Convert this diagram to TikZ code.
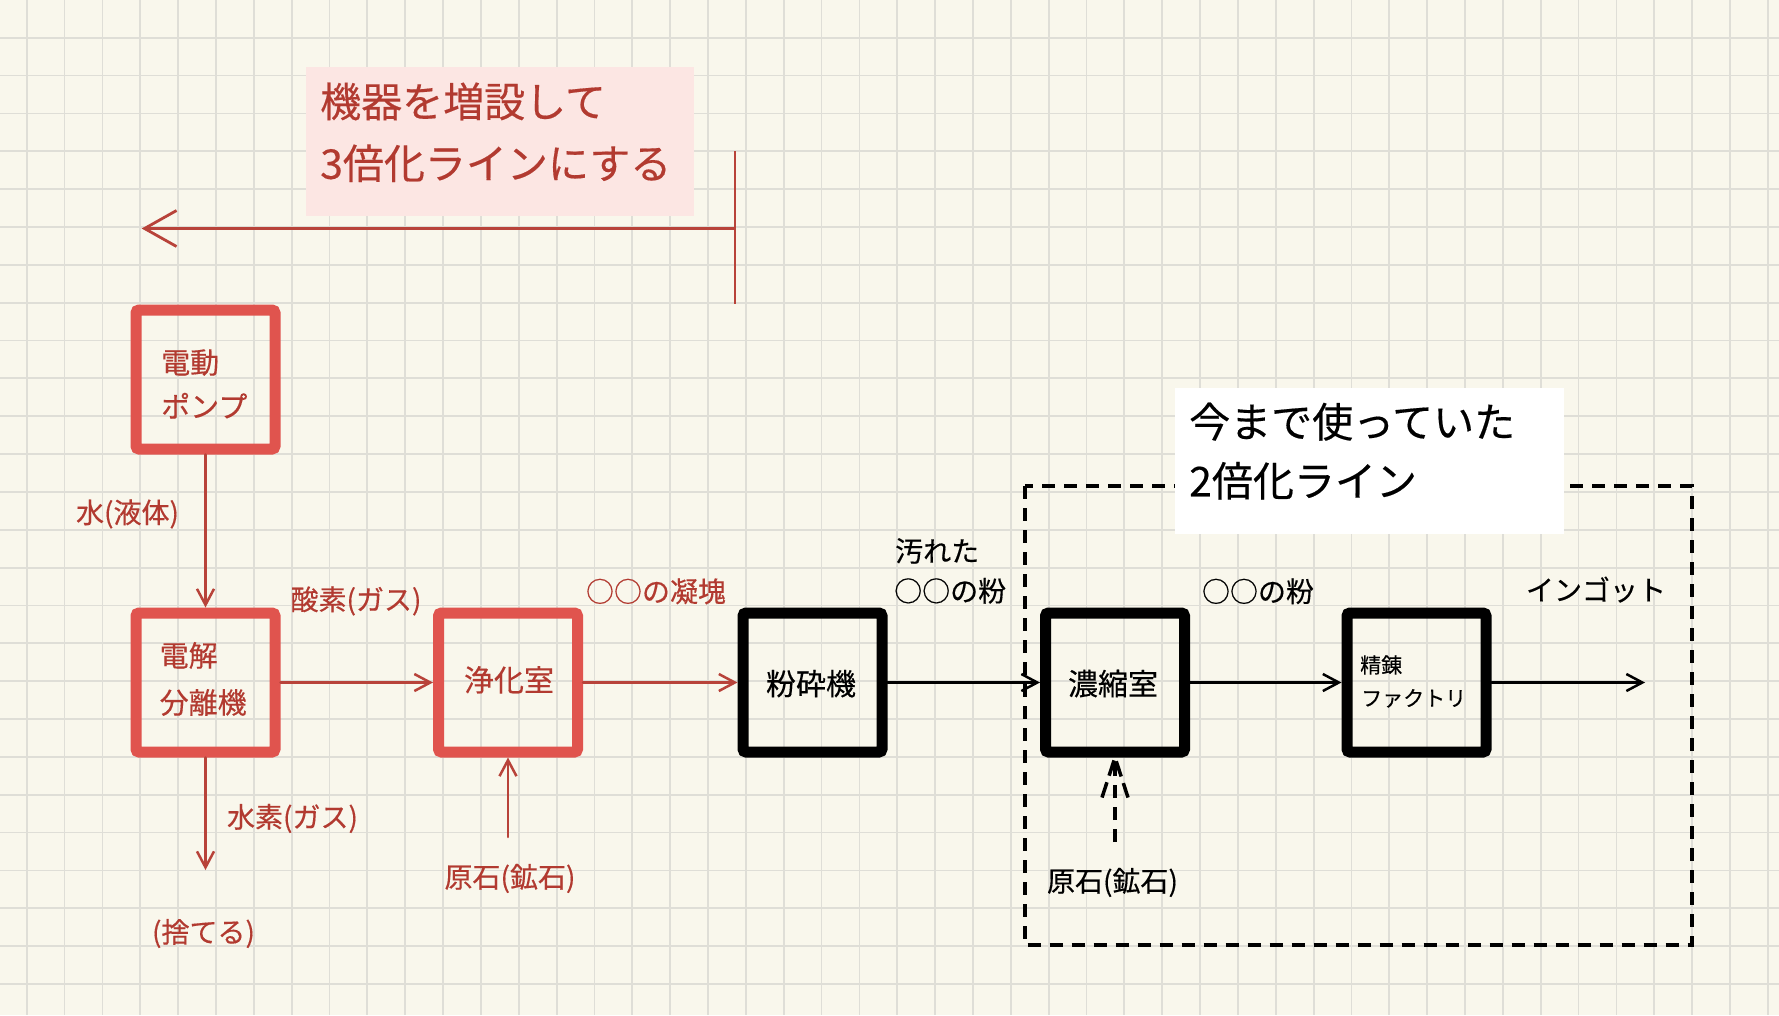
\documentclass[tikz,border=0pt]{standalone}
\usepackage{fontspec}
\setmainfont{Noto Sans CJK JP}[FakeBold=0.35]
\usetikzlibrary{arrows.meta}
\definecolor{bg}{HTML}{F9F7EC}
\definecolor{gridc}{HTML}{DFDED7}
\definecolor{boxred}{HTML}{E0544E}
\definecolor{txtred}{HTML}{B23A30}
\definecolor{linered}{HTML}{B8433A}
\definecolor{pinkfill}{HTML}{FCE6E3}
\begin{document}
\begin{tikzpicture}[x=1pt,y=-1pt,
  box/.style={draw, line width=11pt, rounded corners=3pt, minimum width=139pt, minimum height=139pt, inner sep=0pt},
  redbox/.style={box, draw=boxred},
  blackbox/.style={box, draw=black},
  txt/.style={inner sep=0pt, anchor=base},
  lbl/.style={txt, font=\fontsize{28}{33}\selectfont},
  redlbl/.style={lbl, text=txtred},
  boxtxt/.style={txt, font=\fontsize{29}{35}\selectfont},
  bigtxt/.style={txt, anchor=base west, font=\fontsize{41}{48}\selectfont},
  smalltxt/.style={txt, anchor=base west, font=\fontsize{21}{25}\selectfont},
  arr/.style={line width=2.5pt, line cap=round, -{Straight Barb[length=16pt,width=17pt,line width=2.5pt]}},
  redarr/.style={arr, draw=linered},
  blackarr/.style={arr, draw=black},
  dsh/.style={draw=black, line width=4pt, dash pattern=on 13pt off 9pt},
  dshhead/.style={draw=black, line width=3.5pt, dash pattern=on 16pt off 7pt},
]
\useasboundingbox (0,0) rectangle (1779,1015);
\fill[bg] (0,0) rectangle (1779,1015);
\foreach \i in {0,...,46} \draw[gridc, line width=1.8pt] ({26.7+37.85*\i},0) -- ({26.7+37.85*\i},1015);
\foreach \j in {1,...,26} \draw[gridc, line width=1.8pt] (0,{-0.15+37.85*\j}) -- (1779,{-0.15+37.85*\j});

% title (3x line)
\node[fill=pinkfill, minimum width=388pt, minimum height=149pt, inner sep=0pt, anchor=north west] (titlebox) at (306,67) {};
\node[bigtxt, text=txtred] (title1) at (320,117) {機器を増設して};
\node[bigtxt, text=txtred] (title2) at (320,178.8) {3倍化ラインにする};
\coordinate (bartop) at (735,151);
\coordinate (barbot) at (735,304);
\coordinate (bigfrom) at (735,228.5);
\coordinate (bigto) at (141.7,228.5);
\draw[linered, line width=2.5pt] (bartop) -- (barbot);
\draw[linered, line width=2.8pt, -{Straight Barb[length=32pt,width=36pt,line width=2.8pt]}] (bigfrom) -- (bigto);

% dashed region (2x line)
\draw[dsh] (1024.5,486) rectangle (1691.7,945);
\node[fill=white, minimum width=389pt, minimum height=146pt, inner sep=0pt, anchor=north west] (oldbox) at (1175,388) {};
\node[bigtxt, text=black] (old1) at (1189,437.3) {今まで使っていた};
\node[bigtxt, text=black] (old2) at (1189,496.3) {2倍化ライン};

% boxes
\node[redbox] (pump) at (205.5,379.5) {};
\node[redbox] (elec) at (205.5,682.5) {};
\node[redbox] (puri) at (508,682.5) {};
\node[blackbox] (crush) at (812.5,682.5) {};
\node[blackbox] (conc) at (1115,682.5) {};
\node[blackbox] (refine) at (1416.5,682.5) {};

% box texts
\node[boxtxt, anchor=base west, text=txtred] (pumpT1) at (161,373.4) {電動};
\node[boxtxt, anchor=base west, text=txtred] (pumpT2) at (161,417.4) {ポンプ};
\node[boxtxt, anchor=base west, text=txtred] (elecT1) at (159.5,666.4) {電解};
\node[boxtxt, anchor=base west, text=txtred] (elecT2) at (159.5,713.4) {分離機};
\node[boxtxt, text=txtred, font=\fontsize{30}{36}\selectfont] (puriT) at (509,691.3) {浄化室};
\node[boxtxt, text=black, font=\fontsize{30}{36}\selectfont] (crushT) at (811,695) {粉砕機};
\node[boxtxt, text=black, font=\fontsize{30}{36}\selectfont] (concT) at (1113,695) {濃縮室};
\node[smalltxt, text=black] (refT1) at (1360,672.9) {精錬};
\node[smalltxt, text=black] (refT2) at (1361,706) {ファクトリ};

% labels
\node[redlbl] (water) at (127.5,523) {水(液体)};
\node[redlbl] (oxy) at (356,610) {酸素(ガス)};
\node[redlbl] (lump) at (656,602) {○○の凝塊};
\node[lbl, anchor=base west] (dirty1) at (895,561.5) {汚れた};
\node[lbl, anchor=base west] (dirty2) at (894,601.5) {○○の粉};
\node[lbl] (powder) at (1258,602) {○○の粉};
\node[lbl] (ingot) at (1596,600.5) {インゴット};
\node[redlbl] (hydro) at (292.5,827.5) {水素(ガス)};
\node[redlbl] (waste) at (203.5,942.5) {(捨てる)};
\node[redlbl] (oreA) at (510,887.5) {原石(鉱石)};
\node[lbl] (oreB) at (1112.5,891.5) {原石(鉱石)};

% connectors
\coordinate (hydEnd) at (205.5,870);
\coordinate (oreAstart) at (508,837);
\coordinate (oreBstart) at (1115,842);
\coordinate (outEnd) at (1645,682.5);
\draw[redarr] (pump) -- (elec);
\draw[redarr] (elec) -- (puri);
\draw[redarr] (puri) -- (crush);
\draw[redarr] (elec) -- (hydEnd);
\draw[redarr] (oreAstart) -- (puri);
\draw[blackarr] (crush) -- (conc);
\draw[blackarr] (conc) -- (refine);
\draw[blackarr] (refine) -- (outEnd);
\draw[dsh, line width=3.5pt] (oreBstart) -- (conc.south);
\draw[dshhead] (conc.south) ++(-13,40) -- (conc.south) -- ++(13,40);
\end{tikzpicture}
\end{document}
